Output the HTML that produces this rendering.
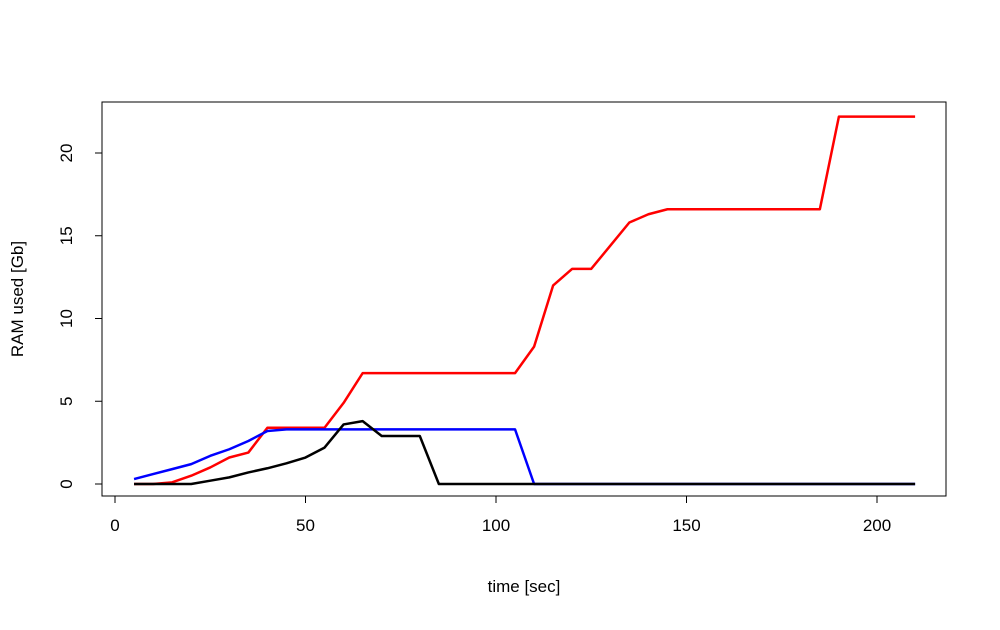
<!DOCTYPE html>
<html><head><meta charset="utf-8"><style>
body{margin:0;background:#fff}
svg text{font-family:"Liberation Sans",sans-serif;font-size:17px;fill:#000}
</style></head><body>
<svg width="1000" height="625">
<rect x="102" y="102" width="844" height="394" fill="none" stroke="#000" stroke-width="1"/>
<g id="axes"></g>
<g id="series"></g>
<text x="524" y="592" text-anchor="middle">time [sec]</text>
<text transform="translate(23,299) rotate(-90)" text-anchor="middle">RAM used [Gb]</text>
</svg>
<script>
const times=[5,10,15,20,25,30,35,40,45,50,55,60,65,70,75,80,85,90,95,100,105,110,115,120,125,130,135,140,145,150,155,160,165,170,175,180,185,190,195,200,205,210];
const redVals=[0,0,0.1,0.5,1.0,1.6,1.9,3.4,3.4,3.4,3.4,4.9,6.7,6.7,6.7,6.7,6.7,6.7,6.7,6.7,6.7,8.3,12,13,13,14.4,15.8,16.3,16.6,16.6,16.6,16.6,16.6,16.6,16.6,16.6,16.6,22.2,22.2,22.2,22.2,22.2];
const blueVals=[0.3,0.6,0.9,1.2,1.7,2.1,2.6,3.2,3.3,3.3,3.3,3.3,3.3,3.3,3.3,3.3,3.3,3.3,3.3,3.3,3.3,0,0,0,0,0,0,0,0,0,0,0,0,0,0,0,0,0,0,0,0,0];
const blackVals=[0,0,0,0,0.2,0.4,0.7,0.95,1.25,1.6,2.2,3.6,3.8,2.9,2.9,2.9,0,0,0,0,0,0,0,0,0,0,0,0,0,0,0,0,0,0,0,0,0,0,0,0,0,0];
const xTicks=[0,50,100,150,200];
const yTicks=[0,5,10,15,20];
const NS="http://www.w3.org/2000/svg";
const xs=v=>115+v*3.81;
const ys=v=>484-v*16.55;
const axes=document.getElementById('axes');
function mk(tag,attrs,parent){const e=document.createElementNS(NS,tag);for(const k in attrs)e.setAttribute(k,attrs[k]);parent.appendChild(e);return e;}
mk('line',{x1:xs(xTicks[0]),x2:xs(xTicks[xTicks.length-1]),y1:496,y2:496,stroke:'#000'},axes);
xTicks.forEach(t=>{
  const l=mk('line',{x1:xs(t),x2:xs(t),y1:496,y2:503,stroke:'#000'},axes);
  
  
  const tx=mk('text',{x:xs(t),y:531,'text-anchor':'middle'},axes);tx.textContent=t;
  
  
});
mk('line',{x1:102,x2:102,y1:ys(yTicks[0]),y2:ys(yTicks[yTicks.length-1]),stroke:'#000'},axes);
yTicks.forEach(t=>{
  const l=mk('line',{x1:95,x2:102,y1:ys(t),y2:ys(t),stroke:'#000'},axes);
  
  
  const tx=mk('text',{transform:`translate(72,${ys(t)}) rotate(-90)`,'text-anchor':'middle'},axes);tx.textContent=t;
  
  
});
const g=document.getElementById('series');
[[redVals,'#ff0000','red-series'],[blueVals,'#0000ff','blue-series'],[blackVals,'#000000','black-series']].forEach(([vals,c,n])=>{
  const p=mk('polyline',{points:times.map((t,i)=>xs(t)+','+ys(vals[i])).join(' '),fill:'none',stroke:c,'stroke-width':2.5,'stroke-linejoin':'round'},g);
  
  
});
</script>
</body></html>
